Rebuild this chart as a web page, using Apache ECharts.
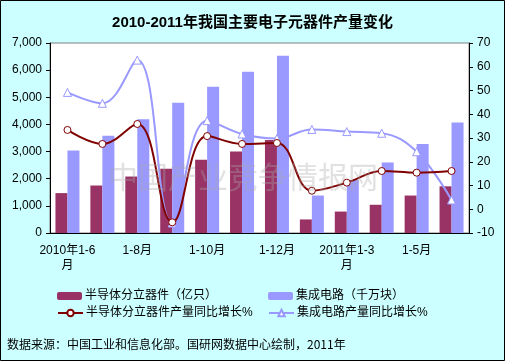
<!DOCTYPE html>
<html><head><meta charset="utf-8">
<script src="https://cdn.jsdelivr.net/npm/echarts@6/dist/echarts.min.js"></script>
<style>html,body{margin:0;padding:0;}#c{width:505px;height:361px;}</style>
</head><body><div id="c"></div>
<script>
var categories = ['2010年1-6月','1-7月','1-8月','1-9月','1-10月','1-11月','1-12月','1-2月','2011年1-3月','1-4月','1-5月','1-6月'];
var semiOutput = [1470,1750,2080,2370,2700,3000,3430,500,790,1040,1380,1720];
var icOutput = [3040,3580,4190,4800,5390,5940,6530,1380,1950,2600,3280,4070];
var semiGrowth = [33.4,27.5,35.9,-5.5,30.8,27.5,27.9,7.8,11.2,16.1,15.4,16.1];
var icGrowth = [49.2,44.6,62.8,-5.8,37.3,31.7,29.8,33.6,32.7,32.0,24.2,3.9];
var leftTicks = [0,7000,1000];
var rightTicks = [-10,70,10];
var names = ['半导体分立器件（亿只）','集成电路（千万块）','半导体分立器件产量同比增长%','集成电路产量同比增长%'];

var font = '"Liberation Sans", Arial, "Noto Sans CJK SC", sans-serif';
var chart = echarts.init(document.getElementById('c'));
function lg(name, left, top) {
  return {data:[name], left:left, top:top, itemWidth:25, itemHeight:8, itemGap:0, padding:0,
    textStyle:{fontSize:12, color:'#000', fontFamily:font, padding:[0,0,0,-2]}};
}
chart.setOption({
  backgroundColor:'#CCFFFF',
  animation:false,
  textStyle:{fontFamily:font},
  title:{text:'2010-2011年我国主要电子元器件产量变化', left:'center', top:10,
    textStyle:{fontSize:15, fontWeight:'bold', color:'#000', fontFamily:font}},
  grid:{left:50, right:36, top:43, bottom:128, show:true, backgroundColor:'#fff', borderColor:'#808080', borderWidth:1},
  legend:[lg(names[0],57,290), lg(names[1],268,290), lg(names[2],57,307), lg(names[3],268,307)],
  xAxis:{type:'category', data:categories,
    axisLine:{lineStyle:{color:'#000'}},
    axisTick:{interval:0, length:4, lineStyle:{color:'#000'}},
    axisLabel:{interval:1, color:'#000', fontSize:12, margin:10, lineHeight:15,
      formatter:function(v){ return v.indexOf('年')>=0 ? v.slice(0,-1)+'\n月' : v; }}},
  yAxis:[
    {type:'value', min:leftTicks[0], max:leftTicks[1], interval:leftTicks[2],
      axisLine:{show:true, lineStyle:{color:'#000'}}, axisTick:{show:true, length:4, lineStyle:{color:'#000'}},
      splitLine:{show:false},
      axisLabel:{color:'#000', fontSize:12, margin:8, formatter:function(v){return v.toLocaleString('en-US');}}},
    {type:'value', min:rightTicks[0], max:rightTicks[1], interval:rightTicks[2], position:'right',
      axisLine:{show:true, lineStyle:{color:'#000'}}, axisTick:{show:true, length:4, lineStyle:{color:'#000'}},
      splitLine:{show:false},
      axisLabel:{color:'#000', fontSize:12, margin:8}}
  ],
  series:[
    {name:names[0], type:'bar', data:semiOutput, barWidth:12, barGap:'0%', itemStyle:{color:'#993366'}},
    {name:names[1], type:'bar', data:icOutput, barWidth:12, barGap:'0%', itemStyle:{color:'#9999FF'}},
    {name:names[2], type:'line', yAxisIndex:1, data:semiGrowth, smooth:0.4, symbol:'circle', symbolSize:7,
      lineStyle:{color:'#800000', width:2}, itemStyle:{color:'#fff', borderColor:'#800000', borderWidth:1}, z:5},
    {name:names[3], type:'line', yAxisIndex:1, data:icGrowth, smooth:0.4, symbol:'triangle', symbolSize:8,
      lineStyle:{color:'#9999FF', width:2}, itemStyle:{color:'#fff', borderColor:'#9999FF', borderWidth:1}, z:4}
  ],
  graphic:[
    {type:'text', left:108, top:162, z:100, silent:true,
      style:{text:'中国产业竞争情报网', font:'30px "Noto Sans CJK SC", sans-serif', fill:'rgba(170,170,170,0.35)'}},
    {type:'text', left:7, top:338, style:{text:'数据来源：中国工业和信息化部。国研网数据中心绘制，2011年', font:'12px "Noto Sans CJK SC", sans-serif', fill:'#000'}},
    {type:'rect', shape:{x:0.5, y:0.5, width:504, height:360}, style:{fill:'none', stroke:'#000', lineWidth:1}, z:100, silent:true}
  ]
});
</script></body></html>
